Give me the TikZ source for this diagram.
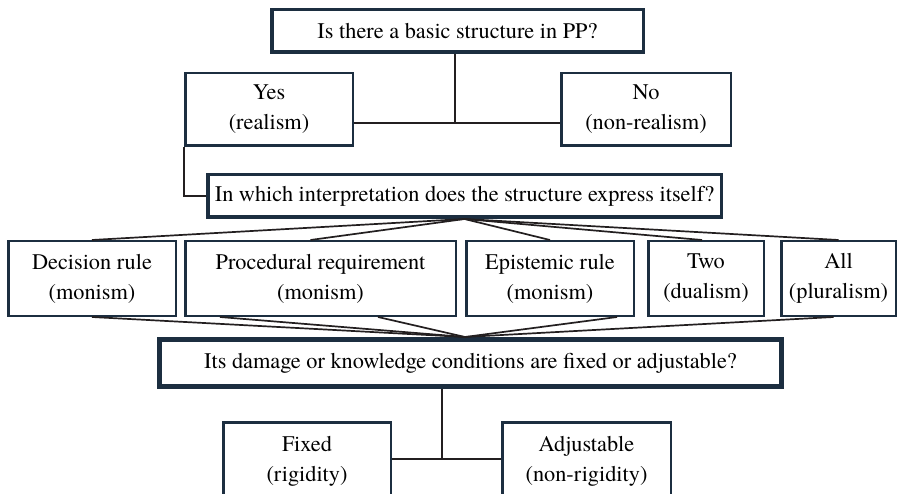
\documentclass[tikz,border=0pt]{standalone}
\usepackage{fontspec}
\setmainfont{TeX Gyre Termes}
\definecolor{boxc}{RGB}{28,46,64}
\definecolor{linec}{RGB}{35,31,32}
\tikzset{
  qbox/.style={draw=boxc, fill=white, align=center, inner sep=0pt, font=\fontsize{22.3}{30}\selectfont},
  conn/.style={draw=linec, line width=1.7pt}
}
\begin{document}
\begin{tikzpicture}[x=1pt,y=-1pt]
\clip (0,0) rectangle (899,494);
\fill[white] (0,0) rectangle (899,494);
% nodes
\node[qbox, line width=3.5pt, minimum width=371.5pt, minimum height=42.5pt] (top) at (457.5,31) {Is there a basic structure in PP?};
\node[qbox, line width=2.5pt, minimum width=167.5pt, minimum height=72.5pt] (yes) at (269,109.5) {Yes\\(realism)};
\node[qbox, line width=2.5pt, minimum width=169.5pt, minimum height=72.5pt] (no) at (646,109.5) {No\\(non-realism)};
\node[qbox, line width=3.5pt, minimum width=513.5pt, minimum height=42.5pt] (interp) at (464.5,196) {In which interpretation does the structure express itself?};
\node[qbox, line width=2.5pt, minimum width=167.5pt, minimum height=74.5pt] (dec) at (92,278.5) {Decision rule\\(monism)};
\node[qbox, line width=2.5pt, minimum width=270.5pt, minimum height=74.5pt] (proc) at (320.5,278.5) {Procedural requirement\\(monism)};
\node[qbox, line width=2.5pt, minimum width=167.5pt, minimum height=74.5pt] (epi) at (550,278.5) {Epistemic rule\\(monism)};
\node[qbox, line width=2.5pt, minimum width=115.5pt, minimum height=74.5pt] (two) at (706,278.5) {Two\\(dualism)};
\node[qbox, line width=2.5pt, minimum width=114.5pt, minimum height=74.5pt] (all) at (838.5,278.5) {All\\(pluralism)};
\node[qbox, line width=5pt, minimum width=622pt, minimum height=47pt] (damage) at (470.5,363) {Its damage or knowledge conditions are fixed or adjustable?};
\node[qbox, line width=2.5pt, minimum width=167.5pt, minimum height=77.5pt] (fixed) at (307,461) {Fixed\\(rigidity)};
\node[qbox, line width=2.5pt, minimum width=168.5pt, minimum height=77.5pt] (adj) at (586.5,461) {Adjustable\\(non-rigidity)};
% junctions
\coordinate (j1) at (455,123);
\coordinate (j3) at (442,459);
% connectors
\draw[conn] (top.south -| j1) -- (j1);
\draw[conn] (yes.east |- j1) -- (no.west |- j1);
\draw[conn] (yes.south west) |- (interp.west);
\draw[conn] (interp.south) -- (dec.north);
\draw[conn] (interp.south) -- ([xshift=-10pt]proc.north);
\draw[conn] (interp.south) -- (epi.north);
\draw[conn] (interp.south) -- ([xshift=-4pt]two.north);
\draw[conn] (interp.south) -- (all.north);
\coordinate (c2) at ([xshift=-5.5pt]damage.north);
\draw[conn] (dec.south) -- (c2);
\draw[conn] ([xshift=36pt]proc.south west) -- (c2);
\draw[conn] ([xshift=-79pt]proc.south east) -- (c2);
\draw[conn] ([xshift=-18pt]epi.south east) -- (c2);
\draw[conn] ([xshift=-5pt]all.south) -- (c2);
\draw[conn] (damage.south -| j3) -- (j3);
\draw[conn] (fixed.east |- j3) -- (adj.west |- j3);
\end{tikzpicture}
\end{document}
